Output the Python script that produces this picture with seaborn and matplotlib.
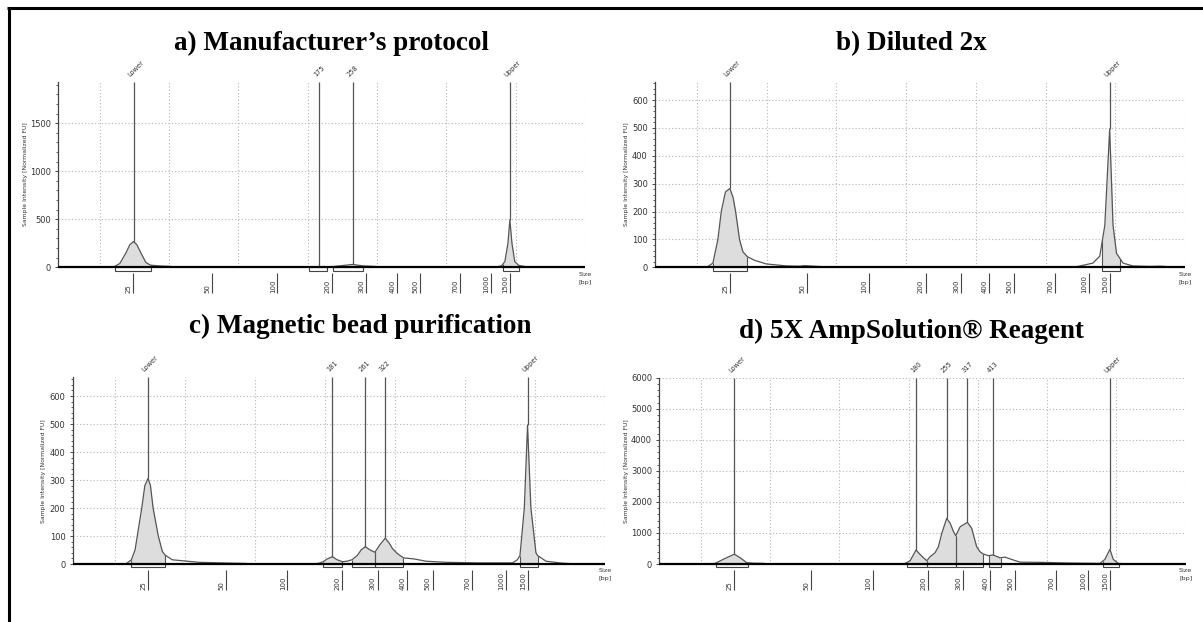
import numpy as np
import pandas as pd
import matplotlib
matplotlib.use("Agg")
import matplotlib.pyplot as plt
from matplotlib.patches import Rectangle
from matplotlib.lines import Line2D
import seaborn as sns

sns.set_theme(style="white")
plt.rcParams['font.family'] = ['DejaVu Sans']

# ---------------- data (migration time [s] vs. fluorescence [FU]) ----------------
ladder_labels = ["25", "50", "100", "200", "300", "400", "500", "700", "1000", "1500"]

a_title = "a) Manufacturer\u2019s protocol"
a_time = [17.0, 20.84, 21.08, 21.44, 21.88, 22.16, 22.43, 22.67, 22.96, 23.32, 23.66, 24.33, 25.05, 25.2,
          35.0, 35.1, 35.82, 36.36, 36.5, 36.83, 37.5, 38.23, 38.95, 39.96, 40.2,
          48.5, 48.98, 49.22, 49.44, 49.58, 49.73, 49.93, 50.22, 50.66, 51.0, 55.0]
a_signal = [0, 0, 10, 40, 150, 235, 268, 235, 150, 50, 22, 14, 10, 0,
            0, 2, 6, 3, 3, 8, 18, 30, 15, 8, 0,
            0, 15, 60, 250, 493, 250, 60, 20, 8, 0, 0]
a_ladder = [22.42, 28.08, 32.81, 36.78, 39.19, 41.45, 43.09, 45.97, 48.19, 49.58]
a_peak_time = [22.43, 35.82, 38.23, 49.58]
a_peak_signal = [268, 6, 30, 493]
a_peak_label = ["Lower", "175", "258", "Upper"]
a_region_start = [21.08, 35.1, 36.83, 49.1]
a_region_end = [23.66, 36.36, 38.95, 50.23]

b_title = "b) Diluted 2x"
b_time = [17.0, 20.72, 21.15, 21.51, 21.75, 22.05, 22.37, 22.6, 22.78, 23.06, 23.3, 23.62, 24.14, 24.98,
          26.41, 27.37, 27.73, 29.04, 29.52,
          47.0, 47.31, 48.39, 48.89, 49.25, 49.6, 49.84, 50.09, 50.56, 51.26, 52.48, 53.19, 53.91, 54.27, 55.0]
b_signal = [0, 0, 15, 100, 200, 270, 283, 250, 200, 100, 56, 38, 25, 12,
            5, 4, 6, 2, 0,
            0, 3, 15, 40, 150, 496, 150, 50, 15, 5, 3, 4, 2, 0, 0]
b_ladder = [22.37, 27.92, 32.34, 36.4, 38.92, 40.95, 42.74, 45.71, 48.1, 49.6]
b_peak_time = [22.37, 49.6]
b_peak_signal = [283, 496]
b_peak_label = ["Lower", "Upper"]
b_region_start = [21.15, 49.08]
b_region_end = [23.62, 50.37]

c_title = "c) Magnetic bead purification"
c_time = [17.0, 20.79, 21.19, 21.45, 21.61, 21.93, 22.15, 22.38, 22.55, 22.74, 23.11, 23.4, 23.59, 24.11,
          26.02, 28.38, 29.36, 29.6,
          34.24, 34.59, 34.88, 35.16, 35.54, 35.88, 36.26, 36.59, 36.93, 37.31, 37.59, 37.88, 38.24, 38.57,
          38.95, 39.31, 39.59, 39.83, 40.16, 40.61, 41.38, 42.21, 43.64, 46.02, 48.4,
          48.74, 48.93, 49.24, 49.47, 49.71, 50.07, 50.19, 50.79, 51.95, 52.66, 53.16, 55.0]
c_signal = [0, 0, 15, 50, 100, 200, 280, 306, 280, 200, 100, 45, 32, 15,
            6, 3, 2, 0,
            0, 3, 8, 18, 26, 15, 8, 10, 15, 30, 50, 62, 50, 42,
            70, 92, 75, 55, 38, 22, 18, 10, 6, 4, 4,
            15, 30, 200, 496, 200, 40, 30, 10, 3, 1, 0, 0]
c_ladder = [22.38, 27.93, 32.33, 36.26, 38.76, 40.9, 42.69, 45.54, 47.93, 49.47]
c_peak_time = [22.38, 35.54, 37.88, 39.31, 49.47]
c_peak_signal = [306, 26, 62, 92, 496]
c_peak_label = ["Lower", "181", "261", "322", "Upper"]
c_region_start = [21.19, 34.88, 36.93, 38.57, 48.93]
c_region_end = [23.59, 36.19, 38.57, 40.61, 50.19]

d_title = "d) 5X AmpSolution\u00ae Reagent"
d_time = [17.0, 20.67, 21.03, 21.75, 22.42, 22.84, 23.32, 23.92, 24.52, 24.71,
          34.38, 34.74, 35.1, 35.53, 35.95, 36.31, 36.55, 36.91, 37.15, 37.39, 37.75, 38.0, 38.24, 38.4,
          38.72, 39.24, 39.55, 39.91, 40.15, 40.39, 40.75, 41.11, 41.59, 41.96, 42.55, 43.04,
          44.96, 46.64, 48.81, 49.17, 49.53, 49.77, 50.13, 50.61, 50.97, 55.0]
d_signal = [0, 0, 20, 180, 315, 200, 40, 25, 20, 0,
            0, 20, 100, 450, 250, 106, 235, 364, 557, 987, 1472, 1310, 1040, 911,
            1200, 1342, 1150, 557, 396, 322, 270, 290, 200, 220, 130, 60,
            50, 30, 20, 150, 475, 150, 20, 10, 0, 0]
d_ladder = [22.42, 27.96, 32.41, 36.38, 38.9, 40.87, 42.68, 45.64, 47.97, 49.53]
d_peak_time = [22.42, 35.53, 37.75, 39.24, 41.11, 49.53]
d_peak_signal = [315, 450, 1472, 1342, 290, 475]
d_peak_label = ["Lower", "180", "255", "317", "413", "Upper"]
d_region_start = [21.1, 34.86, 36.31, 38.4, 40.82, 49.05]
d_region_end = [23.39, 36.31, 38.4, 40.39, 41.67, 50.2]

# ---------------- layout (pixels of a 1203 x 622 canvas) ----------------
W, H = 1203, 622
panels = [
    dict(title=a_title, t=a_time, s=a_signal, ladder=a_ladder, pt=a_peak_time, ps=a_peak_signal,
         pl=a_peak_label, r0=a_region_start, r1=a_region_end,
         L=58.3, R=585, Z=267.3, T=81.7, ppu=0.096, major=500, minor=100,
         title_xy=(331, 50), ylab_x=25.5),
    dict(title=b_title, t=b_time, s=b_signal, ladder=b_ladder, pt=b_peak_time, ps=b_peak_signal,
         pl=b_peak_label, r0=b_region_start, r1=b_region_end,
         L=655, R=1185, Z=267.3, T=81.7, ppu=0.2788, major=100, minor=20,
         title_xy=(911.5, 50), ylab_x=626.7),
    dict(title=c_title, t=c_time, s=c_signal, ladder=c_ladder, pt=c_peak_time, ps=c_peak_signal,
         pl=c_peak_label, r0=c_region_start, r1=c_region_end,
         L=72.7, R=605, Z=564, T=377.3, ppu=0.28, major=100, minor=20,
         title_xy=(360, 333), ylab_x=43.5),
    dict(title=d_title, t=d_time, s=d_signal, ladder=d_ladder, pt=d_peak_time, ps=d_peak_signal,
         pl=d_peak_label, r0=d_region_start, r1=d_region_end,
         L=659.3, R=1185.7, Z=564, T=377.7, ppu=0.03105, major=1000, minor=200,
         title_xy=(911.5, 338), ylab_x=626.7),
]

fig = plt.figure(figsize=(W / 100, H / 100), dpi=100)
fig.patch.set_facecolor("white")

BELOW = 30  # px of room below the baseline inside each axes
line_col = "#555555"
text_col = "#333333"

for p in panels:
    ppu = p["ppu"]
    px = 1.0 / ppu
    ytop = (p["Z"] - p["T"]) * px
    ax = fig.add_axes([p["L"] / W, 1 - (p["Z"] + BELOW) / H,
                       (p["R"] - p["L"]) / W, (p["Z"] + BELOW - p["T"]) / H])
    ax.set_facecolor("white")
    ax.set_xlim(17, 55)
    ax.set_ylim(-BELOW * px, ytop)

    # grid
    ax.vlines(np.arange(20, 56, 5), 0, ytop, colors="#b5b5b5", linestyles=(0, (1, 2)), lw=0.8, zorder=0)
    yt = np.arange(p["major"], ytop + 1e-6, p["major"])
    ax.hlines(yt, 17, 55, colors="#b5b5b5", linestyles=(0, (1, 2)), lw=0.8, zorder=0)

    t = np.array(p["t"], float)
    s = np.array(p["s"], float)

    # peak regions: shaded area, edge lines and boxes
    for a0, a1 in zip(p["r0"], p["r1"]):
        xs = np.linspace(a0, a1, 80)
        ys = np.interp(xs, t, s)
        ax.fill_between(xs, 0, ys, color="#dddddd", lw=0, zorder=1)
        ax.vlines([a0, a1], 0, [ys[0], ys[-1]], colors=line_col, lw=0.8, zorder=2)
        ax.add_patch(Rectangle((a0, -3.4 * px), a1 - a0, 3.4 * px, fill=False,
                               ec="#444444", lw=0.8, zorder=3))

    df = pd.DataFrame({"time": t, "signal": s})
    sns.lineplot(data=df, x="time", y="signal", ax=ax, color=line_col, lw=0.9,
                 sort=False, estimator=None, zorder=2)
    ax.axhline(0, color="black", lw=1.6, zorder=4)

    # peak markers
    ax.vlines(p["pt"], p["ps"], ytop, colors=line_col, lw=0.9, zorder=3)
    for xt, lab in zip(p["pt"], p["pl"]):
        ax.annotate(lab, xy=(xt, ytop), xytext=(-1.8, 3.0), textcoords="offset points",
                    rotation=45, rotation_mode="anchor", ha="left", va="bottom",
                    fontsize=4.8, color=text_col, annotation_clip=False)

    # ladder size ticks
    ax.vlines(p["ladder"], -25.7 * px, -5.7 * px, colors="#444444", lw=0.8)
    for xt, lab in zip(p["ladder"], ladder_labels):
        ax.annotate(lab, xy=(xt, -25.7 * px), xytext=(-1.2, 0), textcoords="offset points",
                    rotation=90, ha="right", va="bottom", fontsize=5.0, color=text_col)
    ax.text(55, -4.5 * px, "Size\n[bp]", ha="center", va="top", fontsize=4.6,
            color=text_col, linespacing=1.7)

    # axes styling
    for sp in ["top", "right", "bottom"]:
        ax.spines[sp].set_visible(False)
    ax.spines["left"].set_bounds(0, ytop)
    ax.spines["left"].set_color("#444444")
    ax.spines["left"].set_linewidth(0.9)
    ax.set_yticks(np.arange(0, ytop + 1e-6, p["major"]))
    ax.set_yticks(np.arange(0, ytop + 1e-6, p["minor"]), minor=True)
    ax.tick_params(axis="y", which="major", left=True, length=2.2, width=0.7, color="#444444",
                   labelsize=6, labelcolor=text_col, pad=3)
    ax.tick_params(axis="y", which="minor", left=True, length=1.3, width=0.6, color="#444444")
    ax.set_xticks([])
    ax.set_xlabel("")
    ax.set_ylabel("")
    ax.grid(False)

    # y label
    fig.text(p["ylab_x"] / W, 1 - ((p["Z"] + p["T"]) / 2) / H,
             "Sample Intensity [Normalized FU]", rotation=90, ha="center", va="center",
             fontsize=4.4, color=text_col)
    # title
    fig.text(p["title_xy"][0] / W, 1 - p["title_xy"][1] / H, p["title"], ha="center",
             va="baseline", fontsize=19.5, fontweight="bold", family=["Liberation Serif"],
             color="black")

# frame lines (left and top)
fig.add_artist(Line2D([8.5 / W, 8.5 / W], [0, 1 - 8 / H], transform=fig.transFigure,
                      color="black", lw=2.2, solid_capstyle="butt"))
fig.add_artist(Line2D([7 / W, 1], [1 - 8 / H, 1 - 8 / H], transform=fig.transFigure,
                      color="black", lw=2.2, solid_capstyle="butt"))

fig.savefig("out.png", dpi=100, facecolor="white")
